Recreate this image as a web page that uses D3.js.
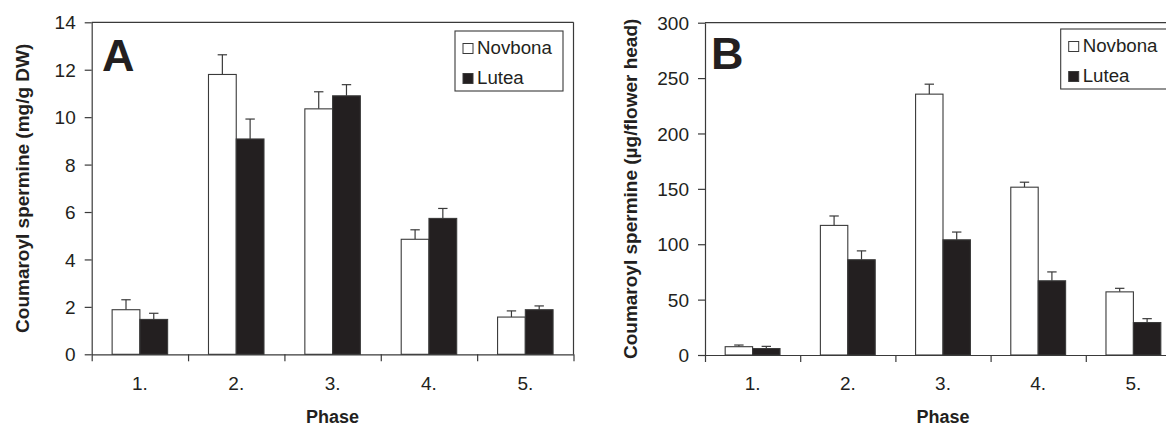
<!DOCTYPE html>
<html><head><meta charset="utf-8">
<script src="https://cdn.jsdelivr.net/npm/d3@7"></script>
<style>
html,body{margin:0;padding:0;background:#fff;}
svg{display:block;font-family:"Liberation Sans",Arial,sans-serif;}
</style></head>
<body>
<svg id="chart" width="1166" height="427"></svg>
<script>
// ---- data ----
const phases = ["1.", "2.", "3.", "4.", "5."];
const seriesNames = ["Novbona", "Lutea"];

const aNovbona = [1.88, 11.8, 10.35, 4.85, 1.57];
const aNovbonaErr = [0.42, 0.83, 0.72, 0.40, 0.26];
const aLutea = [1.47, 9.08, 10.9, 5.73, 1.88];
const aLuteaErr = [0.26, 0.84, 0.47, 0.42, 0.16];
const aTicks = [0, 2, 4, 6, 8, 10, 12, 14];

const bNovbona = [7.5, 117, 235.5, 151.5, 57];
const bNovbonaErr = [1.5, 8.5, 9, 4.5, 3.2];
const bLutea = [5.8, 86, 104, 67, 29.3];
const bLuteaErr = [2, 8, 7, 8, 3.5];
const bTicks = [0, 50, 100, 150, 200, 250, 300];

const svg = d3.select("#chart");
const INK = "#231f20", LINE = "#3a3a3a";

function panel(cfg) {
  const g = svg.append("g");
  const x = d3.scaleBand().domain(phases).range([cfg.left, cfg.right]);
  const y = d3.scaleLinear().domain([0, cfg.max]).range([cfg.bottom, cfg.top]);
  const bw = x.bandwidth();
  const barW = bw * 0.288, off = bw * 0.212;
  const series = [
    {name: seriesNames[0], vals: cfg.nov, err: cfg.novErr, fill: "#ffffff", i: 0},
    {name: seriesNames[1], vals: cfg.lut, err: cfg.lutErr, fill: INK, i: 1}
  ];

  // frame top & right
  g.append("line").attr("x1", cfg.left).attr("x2", cfg.right).attr("y1", cfg.top).attr("y2", cfg.top)
    .attr("stroke", LINE).attr("stroke-width", 1.2);
  g.append("line").attr("x1", cfg.right).attr("x2", cfg.right).attr("y1", cfg.top).attr("y2", cfg.bottom)
    .attr("stroke", LINE).attr("stroke-width", 1.2);

  series.forEach(s => {
    // error bars (upper only)
    const eg = g.append("g");
    phases.forEach((p, k) => {
      const cx = x(p) + off + s.i * barW + barW / 2;
      eg.append("line").attr("x1", cx).attr("x2", cx)
        .attr("y1", y(s.vals[k])).attr("y2", y(s.vals[k] + s.err[k]))
        .attr("stroke", LINE).attr("stroke-width", 1.2);
      eg.append("line").attr("x1", cx - 4.7).attr("x2", cx + 4.7)
        .attr("y1", y(s.vals[k] + s.err[k])).attr("y2", y(s.vals[k] + s.err[k]))
        .attr("stroke", LINE).attr("stroke-width", 1.2);
    });
    g.append("g").selectAll("rect").data(s.vals).join("rect")
      .attr("x", (d, k) => x(phases[k]) + off + s.i * barW)
      .attr("y", d => y(d))
      .attr("width", barW)
      .attr("height", d => y(0) - y(d))
      .attr("fill", s.fill)
      .attr("stroke", LINE).attr("stroke-width", 1.1);
  });

  // y axis
  const ya = g.append("g").attr("transform", `translate(${cfg.left},0)`)
    .call(d3.axisLeft(y).tickValues(cfg.ticks).tickSizeInner(7).tickSizeOuter(0).tickPadding(9));
  ya.select(".domain").attr("stroke", LINE).attr("stroke-width", 1.2);
  ya.selectAll(".tick line").attr("stroke", LINE).attr("stroke-width", 1.2);
  ya.selectAll(".tick text").attr("fill", INK).style("font-size", "19px").attr("dy", "0.35em");

  // x axis: boundary ticks
  const xb = d3.scaleLinear().domain([0, phases.length]).range([cfg.left, cfg.right]);
  const xa = g.append("g").attr("transform", `translate(0,${cfg.bottom})`)
    .call(d3.axisBottom(xb).ticks(phases.length).tickFormat("").tickSizeInner(7).tickSizeOuter(0));
  xa.select(".domain").attr("stroke", LINE).attr("stroke-width", 1.2);
  xa.selectAll(".tick line").attr("stroke", LINE).attr("stroke-width", 1.2);
  // x labels
  const xl = g.append("g").attr("transform", `translate(0,${cfg.bottom})`)
    .call(d3.axisBottom(x).tickSize(0).tickPadding(22));
  xl.select(".domain").remove();
  xl.selectAll(".tick text").attr("fill", INK).style("font-size", "19px").attr("dy", "0.71em");

  // axis titles
  g.append("text").attr("x", (cfg.left + cfg.right) / 2).attr("y", 423)
    .attr("text-anchor", "middle").attr("font-weight", "bold").style("font-size", "18px")
    .attr("fill", INK).text("Phase");
  g.append("text")
    .attr("transform", `translate(${cfg.titleX},${(cfg.top + cfg.bottom) / 2}) rotate(-90)`)
    .attr("text-anchor", "middle").attr("font-weight", "bold").style("font-size", "19px")
    .attr("fill", INK).text(cfg.title);

  // panel letter
  g.append("text").attr("x", cfg.letterX).attr("y", cfg.letterY)
    .attr("font-weight", "bold").style("font-size", "45px").attr("fill", INK).text(cfg.letter);

  // legend
  const L = cfg.legend;
  g.append("rect").attr("x", L.x).attr("y", L.y).attr("width", 108).attr("height", 60)
    .attr("fill", "#fff").attr("stroke", LINE).attr("stroke-width", 1.1);
  series.forEach((s, k) => {
    g.append("rect").attr("x", L.x + 8).attr("y", L.y + 12.5 + k * 30).attr("width", 10).attr("height", 10)
      .attr("fill", s.fill).attr("stroke", LINE).attr("stroke-width", 1);
    g.append("text").attr("x", L.x + 22).attr("y", L.y + 23 + k * 30)
      .style("font-size", "18.7px").attr("fill", INK).text(s.name);
  });
}

panel({left: 91.7, right: 573.5, top: 22.3, bottom: 354.3, max: 14, ticks: aTicks,
  nov: aNovbona, novErr: aNovbonaErr, lut: aLutea, lutErr: aLuteaErr,
  title: "Coumaroyl spermine (mg/g DW)", titleX: 28.5, letter: "A", letterX: 102, letterY: 70.5,
  legend: {x: 455, y: 31}});

panel({left: 705, right: 1181, top: 22.7, bottom: 355, max: 300, ticks: bTicks,
  nov: bNovbona, novErr: bNovbonaErr, lut: bLutea, lutErr: bLuteaErr,
  title: "Coumaroyl spermine (µg/flower head)", titleX: 637, letter: "B", letterX: 711, letterY: 69,
  legend: {x: 1060.7, y: 29}});
</script>
</body></html>
